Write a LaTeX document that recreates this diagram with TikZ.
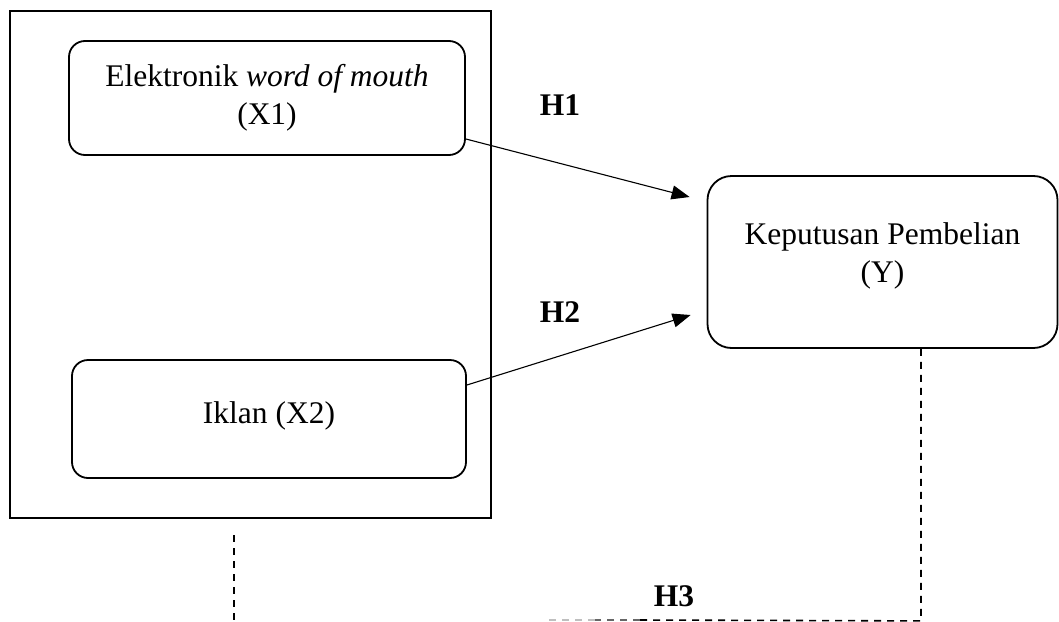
\documentclass[tikz,border=0pt]{standalone}
\usepackage{fontspec}
\setmainfont{Liberation Serif}
\usetikzlibrary{arrows.meta,calc}
\begin{document}
\begin{tikzpicture}[x=1pt,y=-1pt,
  rbox/.style={draw,line width=1.8pt,rounded corners=16pt,align=center,inner sep=0pt,
    font=\fontsize{31.5}{38}\selectfont},
  outerbox/.style={draw,line width=2.4pt,inner sep=0pt},
  hlabel/.style={font=\fontsize{31.5}{38}\selectfont\bfseries,inner sep=0pt},
  link/.style={line width=1.1pt,-{Triangle[length=18pt,width=14pt]}},
  dline/.style={line width=1.6pt,dash pattern=on 7pt off 6pt}]
\useasboundingbox (0,0) rectangle (1059,621);
\node[outerbox,minimum width=481pt,minimum height=507pt] (outer) at (250.5,264.5) {};
\node[rbox,minimum width=396pt,minimum height=114pt] (x1) at (267,98) {Elektronik \textit{word of mouth}\\(X1)};
\node[rbox,minimum width=394pt,minimum height=118pt,text depth=12pt] (x2) at (269,419) {Iklan (X2)};
\node[rbox,rounded corners=24pt,minimum width=350pt,minimum height=172pt,text depth=18pt] (y) at (882.5,262) {Keputusan Pembelian\\(Y)};
\node[hlabel] (h1) at (560,105) {H1};
\node[hlabel] (h2) at (560,312) {H2};
\node[hlabel] (h3) at (674,596) {H3};
\coordinate (a1s) at ([yshift=-41pt]x1.east);
\coordinate (a1e) at ($(y.west)+(-17,-65)$);
\coordinate (a2s) at ([yshift=34pt]x2.east);
\coordinate (a2e) at ($(y.west)+(-16,53)$);
\draw[link] (a1s) -- (a1e);
\draw[link] (a2s) -- (a2e);
\coordinate (d1) at ([xshift=38.5pt]y.south);
\coordinate (d2) at ($(d1)+(0,272)$);
\coordinate (d3) at (640,620);
\coordinate (d4) at (595,620);
\coordinate (d5) at (545,620);
\draw[dline] (d1) -- (d2) -- (d3);
\draw[dline,black!60] (d3) -- (d4);
\draw[dline,black!25] (d4) -- (d5);
\coordinate (l1) at (234,535);
\coordinate (l2) at (234,625);
\draw[dline] (l1) -- (l2);
\end{tikzpicture}
\end{document}
